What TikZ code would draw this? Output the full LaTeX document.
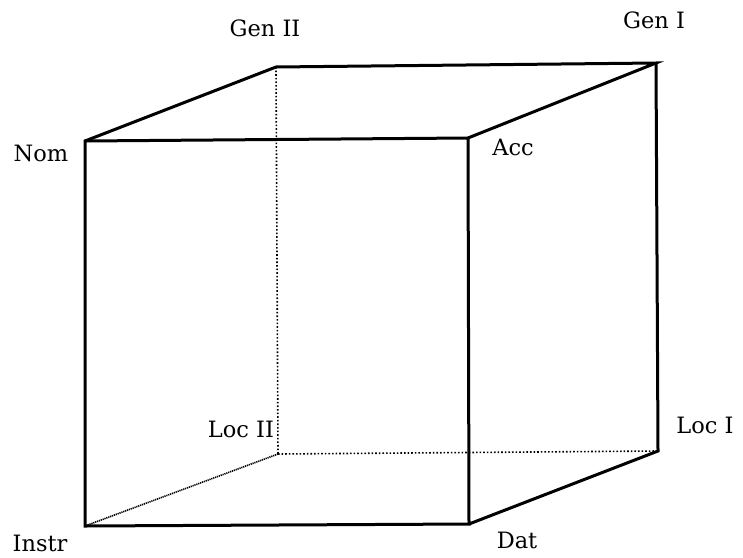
\documentclass[tikz,border=0pt]{standalone}
\usepackage{fontspec}
\setmainfont{DejaVu Serif}
\begin{document}
\begin{tikzpicture}[x=1pt,y=-1pt,
  edge/.style={line width=3pt,line join=miter},
  hidden/.style={line width=1.6pt,dotted},
  lab/.style={font=\fontsize{22.5}{26}\selectfont,inner sep=0pt}]
\useasboundingbox (0,0) rectangle (743,557);
% corners
\coordinate (nom) at (85,141);
\coordinate (acc) at (468,138);
\coordinate (instr) at (85,526);
\coordinate (dat) at (469,524);
\coordinate (gen2) at (276,67);
\coordinate (gen1) at (656,63);
\coordinate (loc2) at (278,454);
\coordinate (loc1) at (658,451);
% hidden edges
\draw[hidden] (gen2) -- (loc2);
\draw[hidden] (loc2) -- (loc1);
\draw[line width=1.6pt,dash pattern=on 1.2pt off 0.8pt] (loc2) -- (instr);
% visible edges
\draw[edge] (instr) -- (nom) -- (acc) -- (dat) -- cycle;
\draw[edge] (nom) -- (gen2) -- (gen1) -- (acc);
\draw[edge] (gen1) -- (loc1) -- (dat);
% labels
\node[lab] (lgen2) at (265,28) {Gen II};
\node[lab] (lgen1) at (654,20) {Gen I};
\node[lab] (lnom) at (41,153) {Nom};
\node[lab] (lacc) at (513,147) {Acc};
\node[lab] (lloc2) at (241,429) {Loc II};
\node[lab] (lloc1) at (705,425) {Loc I};
\node[lab] (linstr) at (40,543) {Instr};
\node[lab] (ldat) at (517,540) {Dat};
\end{tikzpicture}
\end{document}
